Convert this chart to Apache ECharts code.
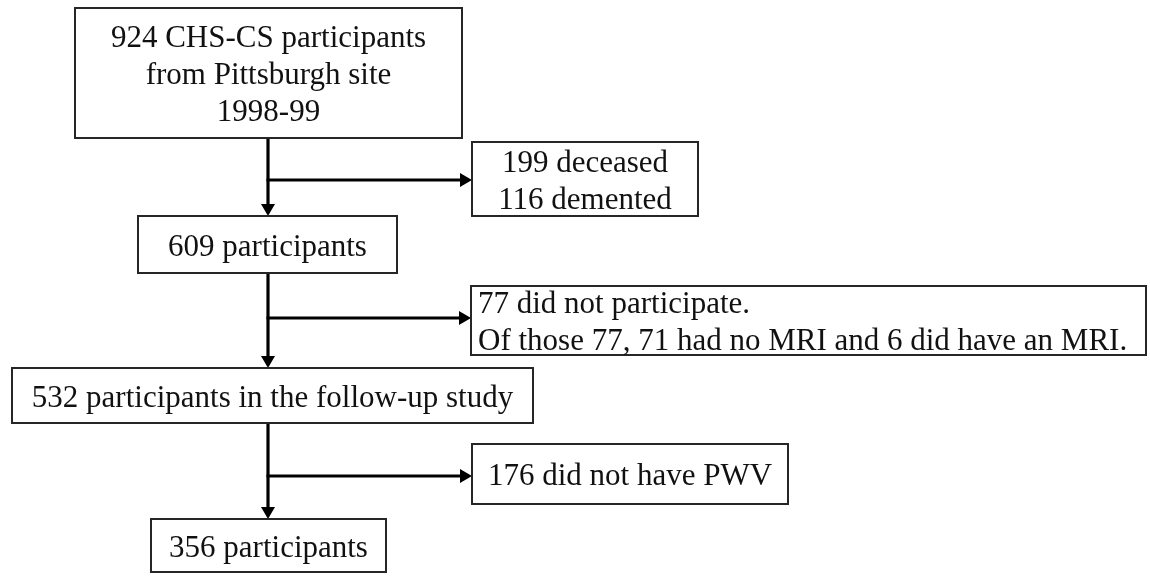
<!DOCTYPE html>
<html>
<head>
<meta charset="utf-8">
<script src="https://cdn.jsdelivr.net/npm/echarts@6/dist/echarts.min.js"></script>
<style>
html,body{margin:0;padding:0;background:#fff;}
#chart{width:1150px;height:576px;}
</style>
</head>
<body>
<div id="chart"></div>
<script>
// ---- content (flow stages and exclusions) ----
const stageLabels = [
  '924 CHS-CS participants\nfrom Pittsburgh site\n1998-99',
  '609 participants',
  '532 participants in the follow-up study',
  '356 participants'
];
const exclusionLabels = [
  '199 deceased\n116 demented',
  '77 did not participate.\nOf those 77, 71 had no MRI and 6 did have an MRI.',
  '176 did not have PWV'
];

// ---- layout (canvas units, y grows downward) ----
const stageBoxes = [[75, 8, 462, 138], [138, 216, 397, 273], [12, 368, 533, 423], [151, 519, 386, 572]];
const exclusionBoxes = [[472, 142, 698, 216], [471, 286, 1146, 355], [472, 444, 788, 504]];
const exclusionAlign = ['center', 'left', 'center'];
const trunkX = 268;
const branchY = [180, 318, 476];

const FONT = '"Liberation Serif", "Times New Roman", serif';
const FS = 31;
const LH = 37;
const BOX_COLOR = '#262626';

function boxElement(api, b, text, align) {
  const p1 = api.coord([b[0], b[1]]);
  const p2 = api.coord([b[2], b[3]]);
  const tx = align === 'left' ? p1[0] + 7 : (p1[0] + p2[0]) / 2;
  const ty = (p1[1] + p2[1]) / 2 + 3;
  return {
    type: 'group',
    children: [
      { type: 'rect', shape: { x: p1[0], y: p1[1], width: p2[0] - p1[0], height: p2[1] - p1[1] },
        style: { fill: '#fff', stroke: BOX_COLOR, lineWidth: 2 } },
      { type: 'text', style: { x: tx, y: ty, text: text, fill: '#111', font: FS + 'px ' + FONT,
        fontFamily: FONT, fontSize: FS, lineHeight: LH, align: align, verticalAlign: 'middle' } }
    ]
  };
}

function arrowElement(api, from, to) {
  const a = api.coord(from), b = api.coord(to);
  const dx = b[0] - a[0], dy = b[1] - a[1];
  const len = Math.sqrt(dx * dx + dy * dy);
  const ux = dx / len, uy = dy / len;
  const L = 12, W = 7;
  const bx = b[0] - ux * L, by = b[1] - uy * L;
  return {
    type: 'group',
    children: [
      { type: 'line', shape: { x1: a[0], y1: a[1], x2: b[0] - ux * 4, y2: b[1] - uy * 4 },
        style: { stroke: '#000', lineWidth: 3.2 } },
      { type: 'polygon', shape: { points: [[b[0], b[1]], [bx - uy * W, by + ux * W], [bx + uy * W, by - ux * W]] },
        style: { fill: '#000' } }
    ]
  };
}

const boxData = stageLabels.map((t, i) => ({ value: [i, 0], text: t }))
  .concat(exclusionLabels.map((t, i) => ({ value: [i, 1], text: t })));

const arrowData = [];
for (let i = 0; i < stageLabels.length - 1; i++) {
  arrowData.push({ value: [i, 0] }); // vertical
  arrowData.push({ value: [i, 1] }); // branch
}

const chart = echarts.init(document.getElementById('chart'), null, { renderer: 'canvas' });
chart.setOption({
  backgroundColor: '#fff',
  animation: false,
  grid: { left: 0, right: 0, top: 0, bottom: 0 },
  xAxis: { type: 'value', min: 0, max: 1150, show: false },
  yAxis: { type: 'value', min: 0, max: 576, inverse: true, show: false },
  series: [
    {
      type: 'custom',
      coordinateSystem: 'cartesian2d',
      clip: false,
      silent: true,
      data: arrowData,
      renderItem: function (params, api) {
        const i = api.value(0), kind = api.value(1);
        if (kind === 0) {
          return arrowElement(api, [trunkX, stageBoxes[i][3]], [trunkX, stageBoxes[i + 1][1]]);
        }
        return arrowElement(api, [trunkX - 1.5, branchY[i]], [exclusionBoxes[i][0], branchY[i]]);
      }
    },
    {
      type: 'custom',
      coordinateSystem: 'cartesian2d',
      clip: false,
      silent: true,
      data: boxData,
      renderItem: function (params, api) {
        const i = api.value(0), kind = api.value(1);
        if (kind === 0) return boxElement(api, stageBoxes[i], stageLabels[i], 'center');
        return boxElement(api, exclusionBoxes[i], exclusionLabels[i], exclusionAlign[i]);
      }
    }
  ]
});
</script>
</body>
</html>
